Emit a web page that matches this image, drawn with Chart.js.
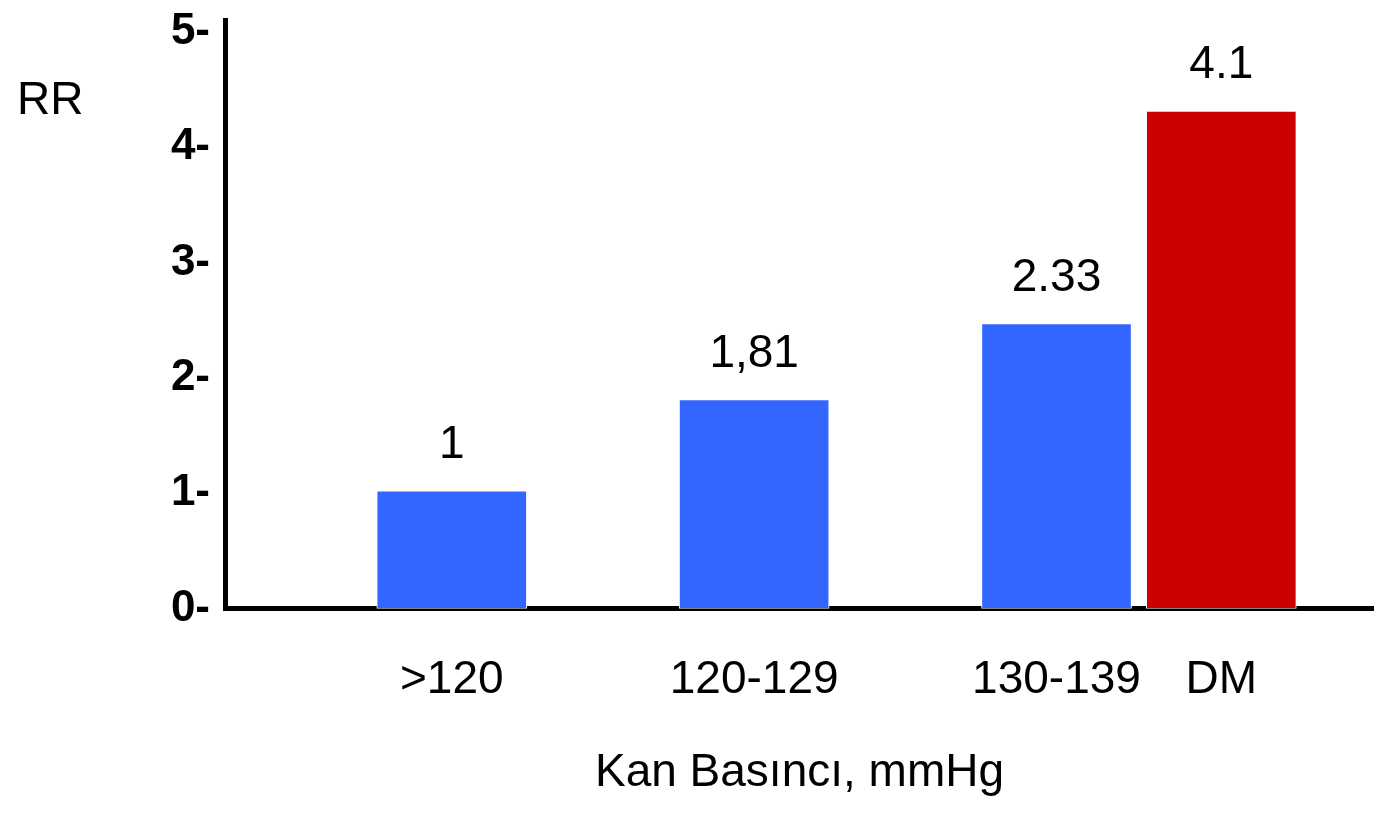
<!DOCTYPE html>
<html>
<head>
<meta charset="utf-8">
<script src="https://cdn.jsdelivr.net/npm/chart.js@4.4.0/dist/chart.umd.min.js"></script>
<style>
  html, body { margin: 0; padding: 0; background: #ffffff; }
  #wrap { width: 1374px; height: 814px; position: relative; }
</style>
</head>
<body>
<div id="wrap"><canvas id="grafico"></canvas></div>
<script>
// dados do grafico
const categorias = ['>120', '120-129', '130-139', 'DM'];
const valoresRR = [1.02, 1.81, 2.47, 4.31];
const rotulosValor = ['1', '1,81', '2.33', '4.1'];
const ticksY = [0, 1, 2, 3, 4, 5];
const coresBarras = ['#3366FF', '#3366FF', '#3366FF', '#CC0000'];
// posicao de cada barra no eixo x (DM fica colada no 130-139)
const posicaoX = [0, 1, 2, 2.545];

const fonte = "'Liberation Sans', Arial, sans-serif";

// escreve os valores em cima das barras + o "RR"
const rotulosPlugin = {
    id: 'rotulos',
    afterDatasetsDraw(chart) {
        const ctx = chart.ctx;
        const meta = chart.getDatasetMeta(0);
        ctx.save();
        ctx.fillStyle = '#000000';
        ctx.font = '46px ' + fonte;
        ctx.textAlign = 'center';
        ctx.textBaseline = 'alphabetic';
        meta.data.forEach(function (barra, i) {
            ctx.fillText(rotulosValor[i], barra.x, barra.y - 33);
        });
        ctx.textAlign = 'left';
        ctx.fillText('RR', 17, 114);
        ctx.restore();
    }
};

const data = {
    datasets: [{
        label: 'RR',
        data: posicaoX.map(function (x, i) { return { x: x, y: valoresRR[i] }; }),
        backgroundColor: coresBarras,
        borderColor: '#ffffff',
        borderWidth: 1,
        barThickness: 150,
        borderSkipped: false
    }]
};

const config = {
    type: 'bar',
    data: data,
    options: {
        responsive: true,
        maintainAspectRatio: false,
        animation: false,
        layout: { padding: { top: 20, right: 0, bottom: 0, left: 0 } },
        plugins: {
            legend: { display: false },
            tooltip: { enabled: false }
        },
        scales: {
            x: {
                type: 'linear',
                offset: false,
                min: -0.75,
                max: 3.05,
                grid: { display: false, drawTicks: false },
                border: { display: true, color: '#000000', width: 5 },
                afterBuildTicks: function (scale) {
                    scale.ticks = posicaoX.map(function (v) { return { value: v }; });
                },
                ticks: {
                    color: '#000000',
                    font: { family: fonte, size: 46 },
                    padding: 44,
                    maxRotation: 0,
                    autoSkip: false,
                    callback: function (valor) {
                        const i = posicaoX.indexOf(valor);
                        return i >= 0 ? categorias[i] : '';
                    }
                },
                title: {
                    display: true,
                    text: 'Kan Basıncı, mmHg',
                    color: '#000000',
                    font: { family: fonte, size: 46 },
                    padding: { top: -6, bottom: 13 }
                }
            },
            y: {
                min: 0,
                max: 5.1,
                grid: { display: false, drawTicks: false },
                border: { display: true, color: '#000000', width: 5 },
                afterBuildTicks: function (scale) {
                    scale.ticks = ticksY.map(function (v) { return { value: v }; });
                },
                afterFit: function (scale) {
                    scale.width = 225;
                    scale.paddingTop = 0;
                    scale.paddingBottom = 0;
                },
                ticks: {
                    color: '#000000',
                    font: { family: fonte, size: 44, weight: 'bold' },
                    padding: 15,
                    callback: function (valor) { return valor + '-'; }
                }
            }
        }
    },
    plugins: [rotulosPlugin]
};

const grafico = new Chart(document.getElementById('grafico'), config);
</script>
</body>
</html>
